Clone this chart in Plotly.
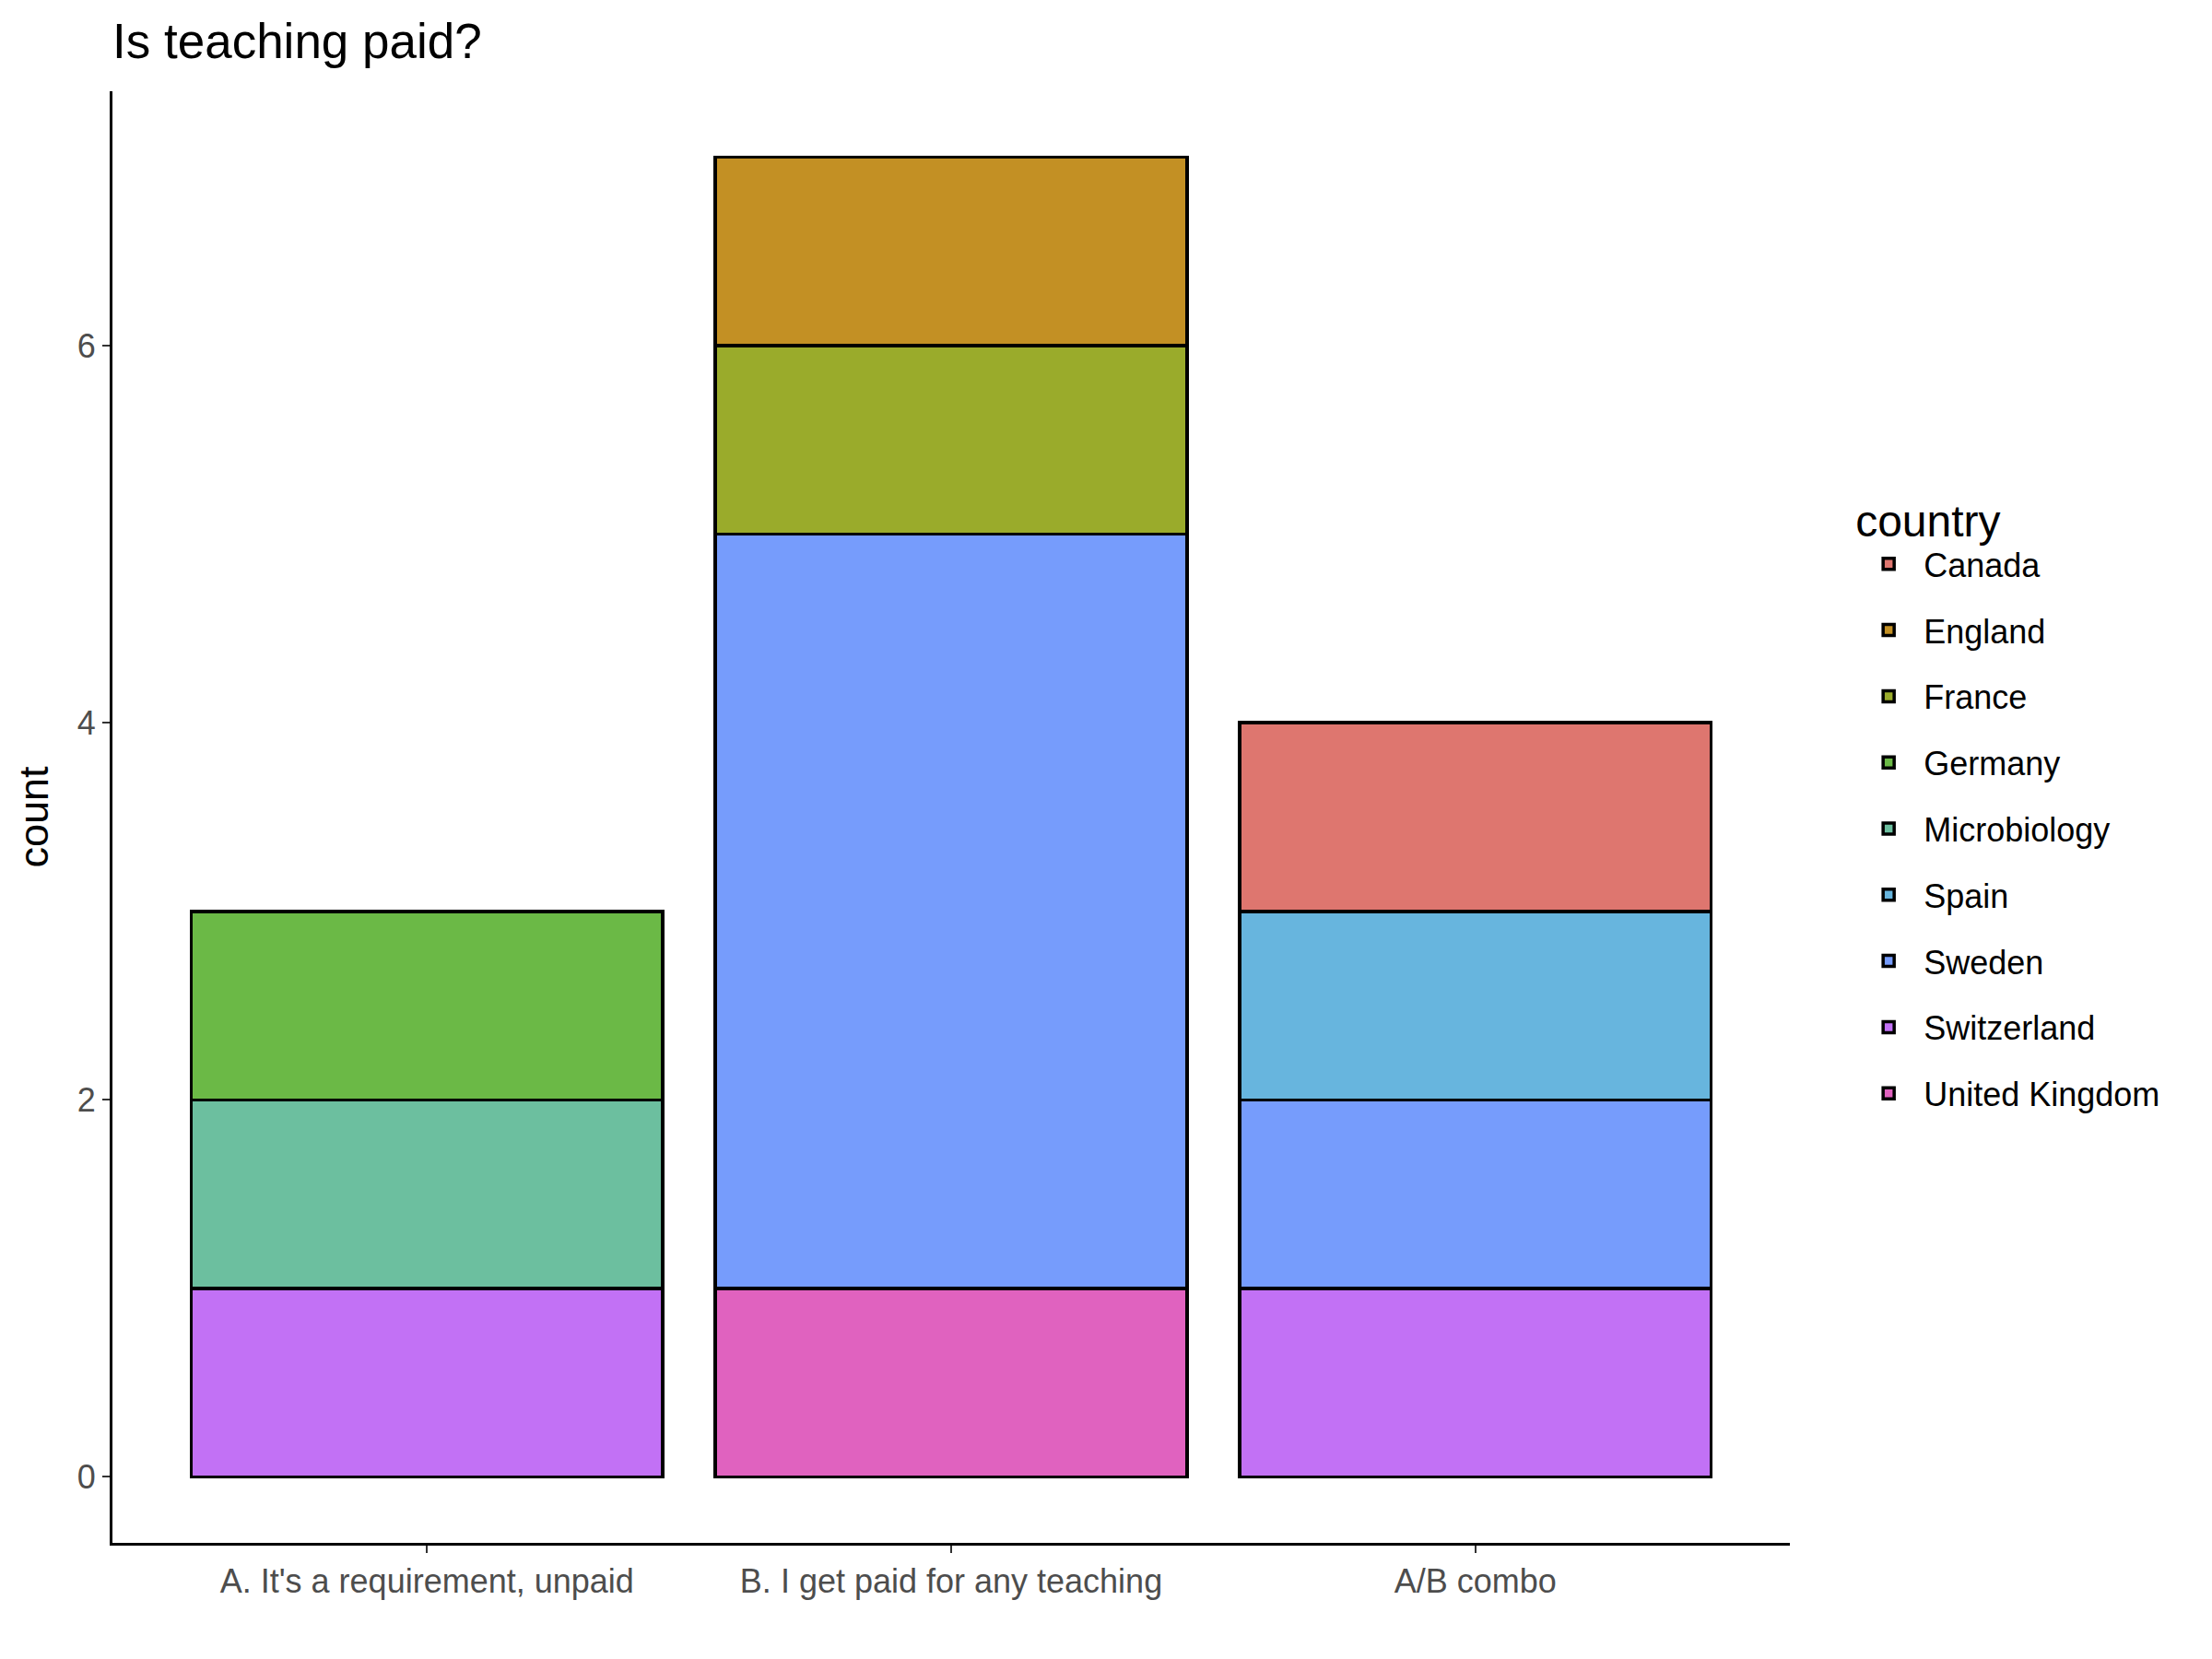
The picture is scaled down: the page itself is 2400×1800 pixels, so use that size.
import plotly.graph_objects as go

# answers on the x axis
answers = ["A. It's a requirement, unpaid", "B. I get paid for any teaching", "A/B combo"]

# counts per country for each answer (A, B, A/B combo)
countries = ["Canada", "England", "France", "Germany", "Microbiology",
             "Spain", "Sweden", "Switzerland", "United Kingdom"]
canada = [0, 0, 1]
england = [0, 1, 0]
france = [0, 1, 0]
germany = [1, 0, 0]
microbiology = [1, 0, 0]
spain = [0, 0, 1]
sweden = [0, 4, 1]
switzerland = [1, 0, 1]
united_kingdom = [0, 1, 0]

colors = ["#DE766F", "#C39024", "#9AAB2B", "#6BB946", "#6CBF9F",
          "#67B5DE", "#769CFC", "#C271F5", "#E062BF"]

counts = [canada, england, france, germany, microbiology,
          spain, sweden, switzerland, united_kingdom]

fig = go.Figure()

# ggplot stacks the last level at the bottom, so add traces in reverse
rank = len(countries)
for name, vals, col in reversed(list(zip(countries, counts, colors))):
    xs = [a for a, v in zip(answers, vals) if v > 0]
    ys = [v for v in vals if v > 0]
    fig.add_trace(go.Bar(
        x=xs, y=ys, name=name, legendgroup=name, legendrank=rank,
        marker=dict(color=col, line=dict(color="black", width=3.5)),
        width=0.9,
    ))
    rank -= 1

font = "Liberation Sans, Arial, sans-serif"

fig.update_layout(
    width=2400, height=1800,
    barmode="stack",
    plot_bgcolor="white", paper_bgcolor="white",
    margin=dict(l=114, r=466, t=91, b=134),
    font=dict(family=font, color="black"),
    title=dict(text="Is teaching paid?", x=114 / 2400, xanchor="left",
               y=1 - 36 / 1800, yanchor="middle", yref="container",
               font=dict(size=53, color="black")),
    showlegend=True,
    legend=dict(
        title=dict(text="country", font=dict(size=48)),
        tracegroupgap=22,
        itemwidth=66,
        font=dict(size=36),
        x=1.038, xanchor="left", y=0.733, yanchor="top",
        bgcolor="rgba(0,0,0,0)",
    ),
    xaxis=dict(
        categoryorder="array", categoryarray=answers,
        range=[-0.6, 2.6],
        showline=True, linecolor="black", linewidth=3,
        ticks="outside", ticklen=8, tickwidth=2, tickcolor="#333333",
        tickfont=dict(size=36, color="#4d4d4d"),
        showgrid=False, zeroline=False,
    ),
    yaxis=dict(
        range=[-0.35, 7.35],
        tickvals=[0, 2, 4, 6],
        showline=True, linecolor="black", linewidth=3,
        ticks="outside", ticklen=8, tickwidth=2, tickcolor="#333333",
        tickfont=dict(size=36, color="#4d4d4d"),
        title=dict(text="count", font=dict(size=45), standoff=18),
        showgrid=False, zeroline=False,
    ),
)

fig.write_html("out.html")
